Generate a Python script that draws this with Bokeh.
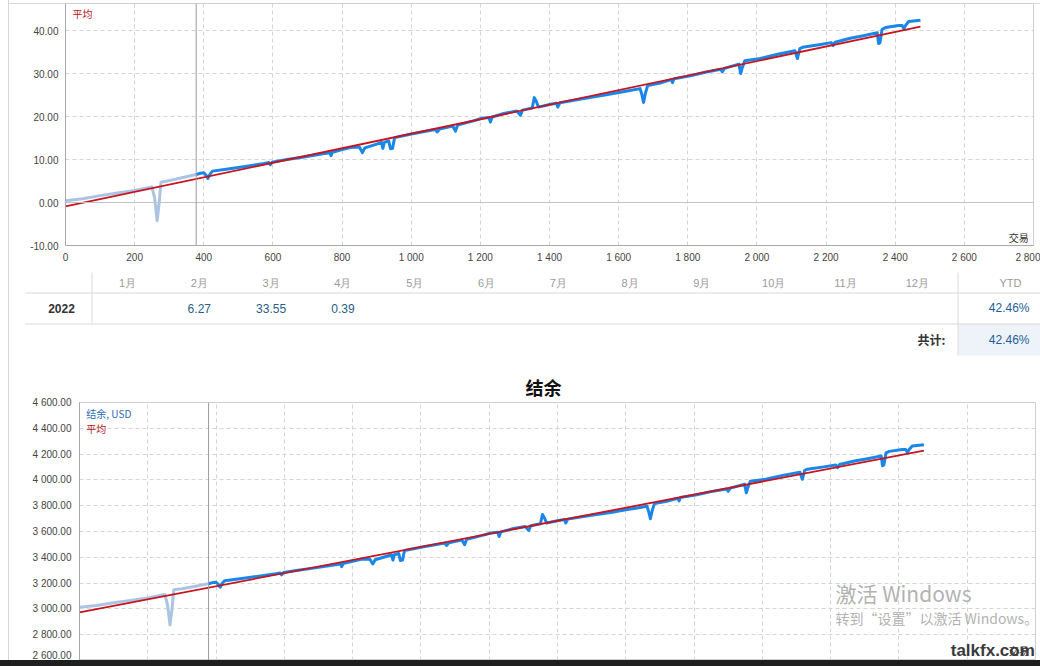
from bokeh.plotting import figure
from bokeh.models import Range1d, FixedTicker, NumeralTickFormatter, Span, Label, Div
from bokeh.embed import file_html
from bokeh.resources import INLINE
from bokeh.core.properties import value

# ---------------- data ----------------
hist_trades = [0, 50, 100, 150, 200, 250, 258, 265, 271, 276, 300, 340, 378]
hist_gain = [0.4, 0.9, 1.6, 2.2, 2.8, 3.6, 1.0, -4.2, 0.0, 4.7, 5.1, 5.8, 6.5]
hist_balance = [3012, 3027, 3048, 3066, 3084, 3112, 3030, 2876, 3000, 3148, 3156, 3176, 3196]

trades = [378, 390, 400, 408, 412, 418, 425, 470, 520, 575, 588, 592, 598, 640, 690, 740,
          765, 768, 772, 800, 824, 850, 859, 866, 900, 914, 918, 922, 935, 940, 946, 952,
          1004, 1050, 1070, 1075, 1082, 1120, 1128, 1134, 1180, 1205, 1225, 1229, 1234,
          1268, 1305, 1316, 1322, 1350, 1356, 1362, 1368, 1400, 1420, 1424, 1430, 1500,
          1560, 1600, 1629, 1662, 1667, 1672, 1678, 1684, 1720, 1752, 1756, 1760, 1808,
          1850, 1895, 1900, 1906, 1948, 1953, 1958, 1965, 2010, 2060, 2110, 2117, 2124,
          2132, 2180, 2215, 2220, 2226, 2270, 2308, 2348, 2352, 2356, 2362, 2372, 2410,
          2420, 2425, 2430, 2439, 2473]
gain = [6.5, 6.8, 6.9, 6.2, 5.6, 6.6, 7.3, 7.8, 8.4, 9.1, 9.3, 8.8, 9.4, 10.0, 10.6, 11.3,
        11.6, 10.9, 11.7, 12.3, 12.8, 12.9, 11.6, 12.7, 13.6, 14.0, 12.6, 14.0, 14.3, 12.5, 12.6, 15.1,
        16.0, 16.7, 17.0, 16.4, 17.1, 17.8, 16.6, 18.0, 19.0, 19.6, 19.8, 18.7, 19.9,
        20.7, 21.3, 20.3, 21.5, 22.0, 24.4, 23.5, 22.2, 22.8, 23.1, 22.2, 23.2, 24.2,
        25.0, 25.6, 26.0, 26.5, 25.2, 23.3, 25.6, 27.2, 27.8, 28.6, 27.9, 28.8, 29.5,
        30.3, 31.0, 30.4, 31.2, 32.2, 30.0, 31.5, 33.0, 33.5, 34.5, 35.3, 33.5, 35.8,
        36.1, 36.7, 37.2, 36.5, 37.3, 38.2, 38.8, 39.5, 37.0, 37.2, 40.3, 40.7, 41.2,
        41.2, 40.4, 41.2, 42.1, 42.4]
balance = [3195, 3204, 3207, 3186, 3168, 3198, 3219, 3234, 3252, 3273, 3279, 3264, 3282, 3300, 3318, 3339,
           3348, 3327, 3351, 3369, 3384, 3387, 3348, 3381, 3408, 3420, 3378, 3420, 3429, 3375, 3378, 3453,
           3480, 3501, 3510, 3492, 3513, 3534, 3498, 3540, 3570, 3588, 3594, 3561, 3597,
           3621, 3639, 3609, 3645, 3660, 3732, 3705, 3666, 3684, 3693, 3666, 3696, 3726,
           3750, 3768, 3780, 3795, 3756, 3699, 3768, 3816, 3834, 3858, 3837, 3864, 3885,
           3909, 3930, 3912, 3936, 3966, 3900, 3945, 3990, 4005, 4035, 4059, 4005, 4074,
           4083, 4101, 4116, 4095, 4119, 4146, 4164, 4185, 4110, 4116, 4209, 4221, 4236,
           4236, 4212, 4236, 4263, 4272]

trend_trades = [0, 2473]
trend_gain = [-0.9, 40.9]
trend_balance = [2973, 4227]
start_trade = 378

x_ticks = list(range(0, 2801, 200))
gain_ticks = [-10, 0, 10, 20, 30, 40]
balance_ticks = list(range(2600, 4601, 200))

months = ["1月", "2月", "3月", "4月", "5月", "6月", "7月", "8月", "9月", "10月", "11月", "12月"]
month_values = ["", "6.27", "33.55", "0.39", "", "", "", "", "", "", "", ""]
year = "2022"
ytd_header = "YTD"
ytd_value = "42.46%"
total_label = "共计:"
total_value = "42.46%"

# ---------------- style ----------------
W = 1040
FONT = "Liberation Sans"
CJK = "Noto Sans CJK SC"
GRID = "#d4d4d4"
AXIS = "#a8a8a8"
TXT = "#444444"
BLUE = "#1a86e8"
LIGHT = "#aac4e2"
RED = "#c8141e"
PANEL = "#d6d6d6"


def panel_css(top_line=None):
    imgs = [f"linear-gradient({PANEL}, {PANEL})"]
    sizes = ["1px 100%"]
    pos = ["8px 0px"]
    if top_line is not None:
        imgs.append(f"linear-gradient({PANEL}, {PANEL})")
        sizes.append("100% 1px")
        pos.append(f"8px {top_line}px")
    return {"background-image": ", ".join(imgs), "background-size": ", ".join(sizes),
            "background-position": ", ".join(pos), "background-repeat": "no-repeat"}


def spaced(v, decimals=0):
    return f"{v:,.{decimals}f}".replace(",", " ")


def style(p):
    p.outline_line_color = "#cfcfcf"
    p.background_fill_color = "white"
    p.border_fill_color = None
    for ax in p.axis:
        ax.axis_line_color = AXIS
        ax.major_tick_line_color = None
        ax.minor_tick_line_color = None
        ax.major_tick_out = 0
        ax.major_tick_in = 0
        ax.major_label_text_font = FONT
        ax.major_label_text_font_size = "10px"
        ax.major_label_text_color = TXT
    for g in p.grid:
        g.grid_line_color = GRID
        g.grid_line_dash = "4 3"
        g.grid_line_width = 1


# ---------------- top chart ----------------
p1 = figure(width=W, height=265, x_range=Range1d(0, 2800), y_range=Range1d(-10, 46.3),
            output_backend="svg", toolbar_location=None, margin=0,
            min_border_left=65, min_border_right=7, min_border_top=3, min_border_bottom=20,
            styles=panel_css(top_line=3))
style(p1)
p1.xaxis.ticker = FixedTicker(ticks=x_ticks)
p1.xaxis.major_label_overrides = {t: spaced(t) for t in x_ticks}
p1.xaxis.major_label_standoff = 6
p1.yaxis.ticker = FixedTicker(ticks=gain_ticks)
p1.yaxis.formatter = NumeralTickFormatter(format="0.00")
p1.yaxis.major_label_standoff = 7
p1.add_layout(Span(location=0, dimension="width", line_color="#c4c4c4", line_width=1))
p1.add_layout(Span(location=start_trade, dimension="height", line_color="#9c9c9c", line_width=1))
p1.line(hist_trades, hist_gain, line_color=LIGHT, line_width=3, line_join="round")
p1.line(trades, gain, line_color=BLUE, line_width=3, line_join="round")
p1.line(trend_trades, trend_gain, line_color=RED, line_width=1.8)
p1.add_layout(Label(x=20, y=44.0, text="平均", text_font=CJK, text_font_size="10px",
                    text_color="#b3161b", text_baseline="middle"))
p1.add_layout(Label(x=2786, y=-8.1, text="交易", text_font=CJK, text_font_size="10px",
                    text_color="#333333", text_baseline="middle", text_align="right"))

# ---------------- table ----------------
TH = 107
p2 = figure(width=W, height=TH, x_range=Range1d(0, W), y_range=Range1d(TH, 0),
            output_backend="svg", toolbar_location=None, min_border=0, margin=0,
            x_axis_location=None, y_axis_location=None, styles=panel_css())
p2.grid.visible = False
p2.outline_line_color = None
p2.background_fill_color = None
p2.border_fill_color = None
p2.quad(left=[958], right=[W], top=[58.5], bottom=[90], fill_color="#eef3f9", line_color=None)
LINE = "#dadada"
p2.segment(x0=[25, 25], y0=[27.5, 58.5], x1=[W, W], y1=[27.5, 58.5], line_color=LINE, line_width=1)
p2.segment(x0=[91.5, 957.5], y0=[7, 7], x1=[91.5, 957.5], y1=[58, 90], line_color=LINE, line_width=1)
col_x = [127 + i * 71.8 for i in range(len(months))]
p2.text(x=col_x, y=[17] * len(months), text=months, text_font=value(FONT), text_font_size="11px",
        text_color="#9a9a9a", text_align="center", text_baseline="middle")
p2.text(x=[1010], y=[17], text=[ytd_header], text_font=value(FONT), text_font_size="11px",
        text_color="#9a9a9a", text_align="center", text_baseline="middle")
p2.text(x=[61], y=[42.5], text=[year], text_font=value(FONT), text_font_size="12px",
        text_font_style="bold", text_color="#333333", text_align="center", text_baseline="middle")
vx = [col_x[i] for i, v in enumerate(month_values) if v]
vt = [v for v in month_values if v]
p2.text(x=vx, y=[42.5] * len(vx), text=vt, text_font=value(FONT), text_font_size="12px",
        text_color="#2a5d88", text_align="center", text_baseline="middle")
p2.text(x=[1029, 1029], y=[42.5, 74], text=[ytd_value, total_value], text_font=value(FONT),
        text_font_size="12px", text_color="#1f5f9a", text_align="right", text_baseline="middle")
p2.text(x=[945], y=[74], text=[total_label], text_font=value(CJK), text_font_size="12px",
        text_font_style="bold", text_color="#333333", text_align="right", text_baseline="middle")

# ---------------- bottom chart ----------------
p3 = figure(width=W, height=288, x_range=Range1d(0, 2800), y_range=Range1d(2600, 4600),
            output_backend="svg", toolbar_location=None, x_axis_location=None, margin=0,
            min_border_left=79, min_border_right=5, min_border_top=30, min_border_bottom=0,
            styles=panel_css())
style(p3)
p3.xgrid.ticker = FixedTicker(ticks=x_ticks)
p3.yaxis.ticker = FixedTicker(ticks=balance_ticks)
p3.yaxis.major_label_overrides = {t: spaced(t, 2) for t in balance_ticks}
p3.yaxis.major_label_standoff = 8
p3.title.text = "结余"
p3.title.text_font = "Liberation Sans, Noto Sans CJK SC"
p3.title.text_font_size = "18px"
p3.title.text_font_style = "bold"
p3.title.text_color = "#111111"
p3.title.align = "left"
p3.title.offset = 446
p3.title.standoff = 8
p3.add_layout(Span(location=start_trade, dimension="height", line_color="#9c9c9c", line_width=1))
p3.line(hist_trades, hist_balance, line_color=LIGHT, line_width=3, line_join="round")
p3.line(trades, balance, line_color=BLUE, line_width=3, line_join="round")
p3.line(trend_trades, trend_balance, line_color=RED, line_width=1.8)
p3.add_layout(Label(x=20, y=4515, text="结余, USD", text_font=CJK, text_font_size="10px",
                    text_color="#2b6cb3", text_baseline="middle"))
p3.add_layout(Label(x=20, y=4398, text="平均", text_font=CJK, text_font_size="10px",
                    text_color="#b3161b", text_baseline="middle"))
p3.add_layout(Label(x=2214, y=3127, text="激活 Windows", text_font=CJK, text_font_size="21px",
                    text_color="#a8a8a8", text_alpha=0.9, text_baseline="middle"))
p3.add_layout(Label(x=2214, y=2933, text="转到“设置”以激活 Windows。", text_font=CJK,
                    text_font_size="14px", text_color="#a8a8a8", text_alpha=0.9, text_baseline="middle"))
p3.add_layout(Label(x=2780, y=2680, text="交易", text_font=CJK, text_font_size="10px",
                    text_color="#333333", text_baseline="middle", text_align="right"))
p3.add_layout(Label(x=2798, y=2604, text="talkfx.com", text_font=FONT, text_font_size="17px",
                    text_font_style="bold", text_color="#3a3a3a", text_baseline="bottom",
                    text_align="right"))

strip = Div(text="", width=W, height=6, margin=0, styles={"background-color": "#1f1f1f"})

open("out.html", "w").write(file_html([p1, p2, p3, strip], INLINE, title="结余"))
